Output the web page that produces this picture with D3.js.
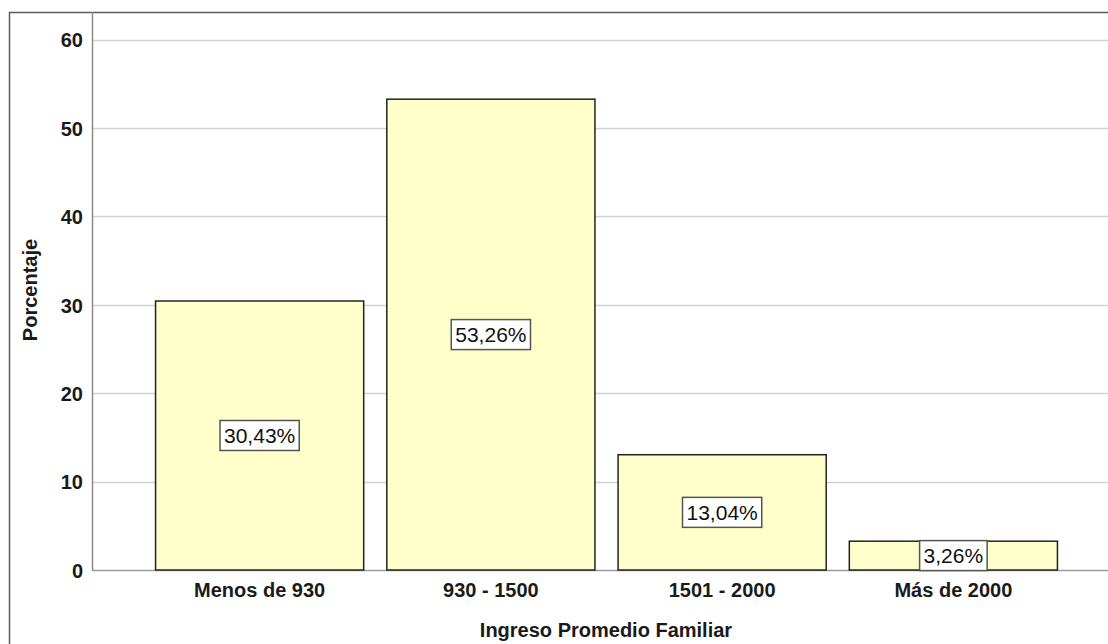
<!DOCTYPE html>
<html><head><meta charset="utf-8">
<script src="https://cdn.jsdelivr.net/npm/d3@7"></script>
<style>body{margin:0;background:#fff}svg{display:block}text{font-family:"Liberation Sans",Arial,sans-serif}</style>
</head><body><svg id="c" width="1108" height="644"></svg>
<script>
const categories = ["Menos de 930", "930 - 1500", "1501 - 2000", "Más de 2000"];
const values = [30.43, 53.26, 13.04, 3.26];
const labels = ["30,43%", "53,26%", "13,04%", "3,26%"];
const yTicks = [0, 10, 20, 30, 40, 50, 60];

const svg = d3.select("#c");
const x0 = 92, yTop = 12, yBase = 570;
const y = d3.scaleLinear().domain([0, 60]).range([yBase, 39.6]);
const x = d3.scaleBand().domain(categories).range([144, 1069]).paddingInner(0.1).paddingOuter(0.05);

// outer frame
svg.append("path").attr("d", `M9.5,644 V12.5 H1108`).attr("fill","none").attr("stroke","#5a5a5a").attr("stroke-width",1.5);

// gridlines
svg.append("g").selectAll("line").data(yTicks.filter(d=>d>0)).join("line")
  .attr("x1", x0).attr("x2", 1108).attr("y1", d=>Math.round(y(d))+0.5).attr("y2", d=>Math.round(y(d))+0.5)
  .attr("stroke","#d2d2d2").attr("stroke-width",1.5);

// y axis
const ya = svg.append("g").attr("transform",`translate(${x0},0)`).call(d3.axisLeft(y).tickValues(yTicks).tickSize(0).tickPadding(9));
ya.select(".domain").remove();
ya.selectAll("text").attr("font-size",20).attr("font-weight","bold").attr("fill","#1a1a1a").attr("font-family","Liberation Sans, Arial").attr("dy","0.36em");
svg.append("line").attr("x1",x0+0.5).attr("x2",x0+0.5).attr("y1",yTop).attr("y2",yBase).attr("stroke","#8a8a8a").attr("stroke-width",1.5);
svg.append("line").attr("x1",x0).attr("x2",1108).attr("y1",yBase+0.5).attr("y2",yBase+0.5).attr("stroke","#9a9a9a").attr("stroke-width",1.5);

// bars
svg.append("g").selectAll("rect").data(values).join("rect")
  .attr("x",(d,i)=>x(categories[i])).attr("width",x.bandwidth())
  .attr("y",d=>y(d)).attr("height",d=>yBase-y(d))
  .attr("fill","#ffffcc").attr("stroke","#222").attr("stroke-width",1.5);

// value labels
const lg = svg.append("g").selectAll("g").data(values).join("g")
  .attr("transform",(d,i)=>`translate(${x(categories[i])+x.bandwidth()/2},${(y(d)+yBase)/2})`);
lg.each(function(d,i){
  const g = d3.select(this);
  const t = g.append("text").text(labels[i]).attr("text-anchor","middle").attr("dy","0.36em")
    .attr("font-size",21).attr("fill","#111");
  const bb = t.node().getBBox();
  g.insert("rect","text").attr("x",bb.x-4).attr("y",-15).attr("width",bb.width+8).attr("height",30)
    .attr("fill","#fff").attr("stroke","#555").attr("stroke-width",1.5);
});

// x axis labels
const xa = svg.append("g").attr("transform",`translate(0,${yBase})`).call(d3.axisBottom(x).tickSize(0).tickPadding(12));
xa.select(".domain").remove();
xa.selectAll("text").attr("font-size",20).attr("font-weight","bold").attr("fill","#1a1a1a").attr("font-family","Liberation Sans, Arial").attr("dy",null).attr("y",27);

// axis titles
svg.append("text").text("Ingreso Promedio Familiar").attr("x",606).attr("y",637).attr("text-anchor","middle")
  .attr("font-size",20).attr("font-weight","bold").attr("fill","#1a1a1a");
svg.append("text").text("Porcentaje").attr("transform","translate(37,290) rotate(-90)").attr("text-anchor","middle")
  .attr("font-size",20).attr("font-weight","bold").attr("fill","#1a1a1a");
</script></body></html>
